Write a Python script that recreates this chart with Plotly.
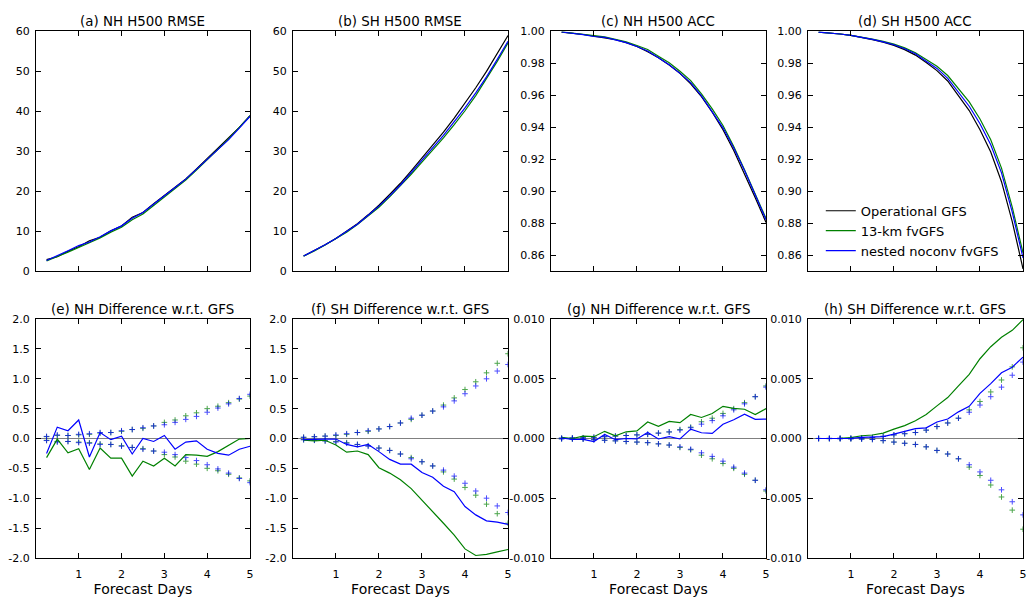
import plotly.graph_objects as go

# ---------------- data ----------------
days = [0.25, 0.5, 0.75, 1.0, 1.25, 1.5, 1.75, 2.0, 2.25, 2.5,
        2.75, 3.0, 3.25, 3.5, 3.75, 4.0, 4.25, 4.5, 4.75, 5.0]

# (a) NH H500 RMSE
nh_rmse_gfs = [2.9, 3.6, 5.0, 6.1, 7.6, 8.5, 10.1, 11.3, 13.5, 14.7,
               16.9, 18.9, 21.1, 23.1, 25.6, 28.2, 30.8, 33.2, 36.0, 38.9]
nh_rmse_fv13 = [2.58, 3.59, 4.76, 5.93, 7.08, 8.34, 9.77, 10.97, 12.87, 14.32,
                16.44, 18.57, 20.64, 22.83, 25.32, 27.90, 30.58, 33.09, 35.99, 38.9]
nh_rmse_nest = [2.65, 3.79, 5.13, 6.41, 7.29, 8.60, 10.08, 11.34, 13.24, 14.70,
                16.85, 18.95, 20.92, 23.04, 25.56, 28.02, 30.55, 32.92, 35.82, 38.77]

# (b) SH H500 RMSE
sh_rmse_gfs = [3.8, 5.1, 6.6, 8.2, 10.0, 11.9, 14.1, 16.5, 19.2, 22.0,
               25.1, 28.3, 31.5, 34.8, 38.3, 42.0, 45.9, 50.0, 54.4, 59.0]
sh_rmse_fv13 = [3.77, 5.06, 6.57, 8.09, 9.77, 11.69, 13.83, 16.01, 18.62, 21.31,
                24.26, 27.27, 30.28, 33.38, 36.68, 40.15, 43.94, 48.06, 52.50, 57.14]
sh_rmse_nest = [3.78, 5.09, 6.59, 8.19, 9.90, 11.76, 14.00, 16.28, 18.85, 21.57,
                24.67, 27.73, 30.85, 34.00, 37.41, 40.86, 44.62, 48.62, 53.00, 57.56]

# (c) NH H500 ACC
nh_acc_gfs = [0.9996, 0.9990, 0.9981, 0.9971, 0.9960, 0.9948, 0.9930, 0.9906, 0.9873, 0.9835,
              0.9790, 0.9738, 0.9672, 0.9592, 0.9495, 0.9385, 0.9255, 0.9110, 0.8960, 0.8805]
nh_acc_fv13 = [0.9997, 0.9990, 0.9983, 0.99725, 0.9966, 0.99503, 0.99356, 0.99124, 0.98868, 0.98452,
               0.98043, 0.97513, 0.96921, 0.96096, 0.95159, 0.94119, 0.92803, 0.91345, 0.89801, 0.8830]
nh_acc_nest = [0.99964, 0.99893, 0.99803, 0.99684, 0.99634, 0.9947, 0.9930, 0.99056, 0.9878, 0.98346,
               0.97915, 0.97376, 0.96798, 0.95968, 0.94992, 0.93969, 0.92707, 0.91304, 0.8976, 0.88213]

# (d) SH H500 ACC
sh_acc_gfs = [0.9996, 0.9991, 0.9984, 0.9975, 0.9963, 0.9949, 0.9933, 0.9913, 0.9886, 0.9852,
              0.9805, 0.9755, 0.9690, 0.9598, 0.9505, 0.9385, 0.9245, 0.9060, 0.8810, 0.8515]
sh_acc_fv13 = [0.9996, 0.9991, 0.99841, 0.99757, 0.99653, 0.99519, 0.99375, 0.99208, 0.98968, 0.98669,
               0.98251, 0.97823, 0.97243, 0.96421, 0.95587, 0.94518, 0.93219, 0.91448, 0.89006, 0.86146]
sh_acc_nest = [0.9996, 0.9991, 0.9984, 0.99751, 0.9964, 0.99505, 0.99345, 0.99167, 0.98921, 0.98603,
               0.98139, 0.97688, 0.97063, 0.96203, 0.95319, 0.94228, 0.9291, 0.9115, 0.88697, 0.85832]

# (e) NH RMSE difference w.r.t. GFS
diff_e_fv13 = [-0.32, -0.01, -0.24, -0.17, -0.52, -0.16, -0.33, -0.33, -0.63, -0.38,
               -0.46, -0.33, -0.46, -0.27, -0.28, -0.30, -0.22, -0.11, -0.01, 0.0]
diff_e_nest = [-0.25, 0.19, 0.13, 0.31, -0.31, 0.10, -0.02, 0.04, -0.26, 0.0,
               -0.05, 0.05, -0.18, -0.06, -0.04, -0.18, -0.25, -0.28, -0.18, -0.13]
sig_e_fv13 = [0.03, 0.05, 0.05, 0.06, 0.07, 0.09, 0.10, 0.12, 0.15, 0.17,
              0.21, 0.27, 0.31, 0.38, 0.43, 0.50, 0.54, 0.60, 0.66, 0.71]
sig_e_nest = [0.035, 0.06, 0.05, 0.07, 0.08, 0.10, 0.10, 0.13, 0.15, 0.18,
              0.21, 0.23, 0.27, 0.32, 0.37, 0.44, 0.51, 0.58, 0.67, 0.74]

# (f) SH RMSE difference w.r.t. GFS
diff_f_fv13 = [-0.03, -0.04, -0.03, -0.11, -0.23, -0.21, -0.27, -0.49, -0.58, -0.69,
               -0.84, -1.03, -1.22, -1.42, -1.62, -1.85, -1.96, -1.94, -1.90, -1.86]
diff_f_nest = [-0.02, -0.01, -0.01, -0.01, -0.10, -0.14, -0.10, -0.22, -0.35, -0.43,
               -0.43, -0.57, -0.65, -0.80, -0.89, -1.14, -1.28, -1.38, -1.40, -1.44]
sig_f_fv13 = [0.02, 0.03, 0.04, 0.05, 0.07, 0.10, 0.12, 0.16, 0.20, 0.26,
              0.32, 0.39, 0.46, 0.56, 0.68, 0.82, 0.95, 1.10, 1.26, 1.42]
sig_f_nest = [0.02, 0.03, 0.04, 0.06, 0.08, 0.10, 0.13, 0.16, 0.20, 0.26,
              0.34, 0.39, 0.46, 0.53, 0.63, 0.75, 0.88, 1.00, 1.13, 1.24]

# (g) NH ACC difference w.r.t. GFS
diff_g_fv13 = [0.0001, 0.0, 0.0002, 0.00015, 0.0006, 0.00023, 0.00056, 0.00064, 0.00138, 0.00102,
               0.00143, 0.00133, 0.00201, 0.00176, 0.00209, 0.00269, 0.00253, 0.00245, 0.00201, 0.0025]
diff_g_nest = [0.00004, -0.00007, -0.00007, -0.00026, 0.00034, -0.0001, 0.0, -0.00004, 0.0005, -0.00004,
               0.00015, -0.00004, 0.00078, 0.00048, 0.00042, 0.00119, 0.00157, 0.00204, 0.0016, 0.00163]
sig_g_fv13 = [0.00003, 0.00005, 0.00006, 0.0001, 0.00015, 0.0002, 0.00025, 0.0003, 0.00035, 0.00045,
              0.00055, 0.00075, 0.00095, 0.0014, 0.0017, 0.0021, 0.0025, 0.0030, 0.0035, 0.0044]
sig_g_nest = [0.00003, 0.00005, 0.00006, 0.0001, 0.00015, 0.0002, 0.00025, 0.0003, 0.00035, 0.00045,
              0.00055, 0.0007, 0.0009, 0.0012, 0.0015, 0.0019, 0.0024, 0.0029, 0.0035, 0.0043]

# (h) SH ACC difference w.r.t. GFS
diff_h_fv13 = [0.0, 0.0, 0.00001, 0.00007, 0.00023, 0.00029, 0.00045, 0.00078, 0.00108, 0.00149,
               0.00201, 0.00273, 0.00343, 0.00441, 0.00537, 0.00668, 0.00769, 0.00848, 0.00906, 0.00996]
diff_h_nest = [0.0, 0.0, 0.0, 0.00001, 0.0001, 0.00015, 0.00015, 0.00037, 0.00061, 0.00083,
               0.00089, 0.00138, 0.00163, 0.00223, 0.00269, 0.00378, 0.0046, 0.0055, 0.00597, 0.00682]
sig_h_fv13 = [0.0, 0.00001, 0.00002, 0.00003, 0.00005, 0.00008, 0.00018, 0.0003, 0.0004, 0.0005,
              0.0007, 0.001, 0.0013, 0.0017, 0.0024, 0.0031, 0.0039, 0.0049, 0.0060, 0.0076]
sig_h_nest = [0.0, 0.00001, 0.00002, 0.00003, 0.00005, 0.00008, 0.00018, 0.0003, 0.0004, 0.0005,
              0.0007, 0.001, 0.0013, 0.0017, 0.0022, 0.0028, 0.0035, 0.0043, 0.0053, 0.0064]

series_names = ["Operational GFS", "13-km fvGFS", "nested noconv fvGFS"]
panel_titles = ["(a) NH H500 RMSE", "(b) SH H500 RMSE", "(c) NH H500 ACC", "(d) SH H500 ACC",
                "(e) NH Difference w.r.t. GFS", "(f) SH Difference w.r.t. GFS",
                "(g) NH Difference w.r.t. GFS", "(h) SH Difference w.r.t. GFS"]
x_ticks = [1, 2, 3, 4, 5]
x_ticktext = ["1", "2", "3", "4", "5"]
rmse_ticks = [0, 10, 20, 30, 40, 50, 60]
acc_ticks = [0.86, 0.88, 0.90, 0.92, 0.94, 0.96, 0.98, 1.00]
rmse_diff_ticks = [-2.0, -1.5, -1.0, -0.5, 0.0, 0.5, 1.0, 1.5, 2.0]
acc_diff_ticks = [-0.010, -0.005, 0.0, 0.005, 0.010]

# ---------------- styling ----------------
FONT = "DejaVu Sans"
C_GFS = "#000000"
C_FV = "#008000"
C_NEST = "#0000ff"
W, H = 1030, 604

col_px = [(36, 251), (294, 510), (553, 769), (811, 1027)]
row_px = [(26, 271), (320, 564)]

fig = go.Figure()

def xd(c):
    return [col_px[c][0] / W, col_px[c][1] / W]

def yd(r):
    return [(H - row_px[r][1]) / H, (H - row_px[r][0]) / H]

top_data = [
    (nh_rmse_gfs, nh_rmse_fv13, nh_rmse_nest),
    (sh_rmse_gfs, sh_rmse_fv13, sh_rmse_nest),
    (nh_acc_gfs, nh_acc_fv13, nh_acc_nest),
    (sh_acc_gfs, sh_acc_fv13, sh_acc_nest),
]
bot_data = [
    (diff_e_fv13, diff_e_nest, sig_e_fv13, sig_e_nest),
    (diff_f_fv13, diff_f_nest, sig_f_fv13, sig_f_nest),
    (diff_g_fv13, diff_g_nest, sig_g_fv13, sig_g_nest),
    (diff_h_fv13, diff_h_nest, sig_h_fv13, sig_h_nest),
]

axis_common = dict(showline=True, linecolor="black", linewidth=1, mirror="ticks",
                   ticks="inside", ticklen=5, tickwidth=1, tickcolor="black",
                   showgrid=False, zeroline=False,
                   tickfont=dict(family=FONT, size=11, color="black"))

for c in range(4):
    i = c + 1
    sfx = "" if i == 1 else str(i)
    gfs, fv, ne = top_data[c]
    for vals, col, nm in zip((gfs, fv, ne), (C_GFS, C_FV, C_NEST), series_names):
        fig.add_trace(go.Scatter(x=days, y=vals, mode="lines", name=nm,
                                 line=dict(color=col, width=1.2),
                                 showlegend=(c == 3), legendgroup=nm,
                                 xaxis="x" + sfx, yaxis="y" + sfx))
    if c < 2:
        yt = dict(range=[0, 60], tickvals=rmse_ticks, ticktext=[str(v) for v in rmse_ticks])
    else:
        yt = dict(range=[0.85, 1.0], tickvals=acc_ticks, ticktext=["%.2f" % v for v in acc_ticks])
    fig.update_layout(**{
        "xaxis" + sfx: dict(domain=xd(c), range=[0, 5], tickvals=x_ticks, showticklabels=False,
                            anchor="y" + sfx, **axis_common),
        "yaxis" + sfx: dict(domain=yd(0), anchor="x" + sfx, ticklabelstandoff=3, **yt, **axis_common),
    })

for c in range(4):
    i = c + 5
    sfx = str(i)
    fv, ne, sfv, sne = bot_data[c]
    for sig, col in ((sfv, C_FV), (sne, C_NEST)):
        for sign in (1, -1):
            fig.add_trace(go.Scatter(x=days, y=[sign * s for s in sig], mode="markers",
                                     marker=dict(symbol="cross-thin", size=4, opacity=0.7,
                                                 line=dict(color=col, width=1)),
                                     showlegend=False, hoverinfo="skip",
                                     xaxis="x" + sfx, yaxis="y" + sfx))
    for vals, col, nm in ((fv, C_FV, series_names[1]), (ne, C_NEST, series_names[2])):
        fig.add_trace(go.Scatter(x=days, y=vals, mode="lines", name=nm,
                                 line=dict(color=col, width=1.2), showlegend=False,
                                 xaxis="x" + sfx, yaxis="y" + sfx))
    if c < 2:
        yt = dict(range=[-2.0, 2.0], tickvals=rmse_diff_ticks,
                  ticktext=["%.1f" % v for v in rmse_diff_ticks])
    else:
        yt = dict(range=[-0.010, 0.010], tickvals=acc_diff_ticks,
                  ticktext=["%.3f" % v for v in acc_diff_ticks])
    ax_y = dict(axis_common)
    ax_y.update(zeroline=True, zerolinecolor="#808080", zerolinewidth=1)
    fig.update_layout(**{
        "xaxis" + sfx: dict(domain=xd(c), range=[0, 5], tickvals=x_ticks, ticktext=x_ticktext,
                            anchor="y" + sfx, ticklabelstandoff=6,
                            title=dict(text="Forecast Days", standoff=4,
                                       font=dict(family=FONT, size=14, color="black")),
                            **axis_common),
        "yaxis" + sfx: dict(domain=yd(1), anchor="x" + sfx, ticklabelstandoff=3, **yt, **ax_y),
    })

annotations = []
for k, t in enumerate(panel_titles):
    c, r = k % 4, k // 4
    xc = (col_px[c][0] + col_px[c][1]) / 2 / W
    ytop = (H - row_px[r][0]) / H
    annotations.append(dict(text=t, x=xc, y=ytop, xref="paper", yref="paper",
                            xanchor="center", yanchor="bottom", yshift=0, showarrow=False,
                            font=dict(family=FONT, size=13.4, color="black")))

fig.update_layout(
    width=W, height=H,
    margin=dict(l=0, r=0, t=0, b=0),
    paper_bgcolor="white", plot_bgcolor="white",
    font=dict(family=FONT, size=11, color="black"),
    annotations=annotations,
    legend=dict(x=824 / W, y=(H - 194) / H, xanchor="left", yanchor="top",
                bgcolor="rgba(0,0,0,0)", borderwidth=0, itemwidth=30, tracegroupgap=0,
                font=dict(family=FONT, size=13, color="black")),
    showlegend=True,
)

fig.write_html("out.html", config={"displayModeBar": False},
               post_script="document.body.style.margin='0px';document.body.style.overflow='hidden';")
